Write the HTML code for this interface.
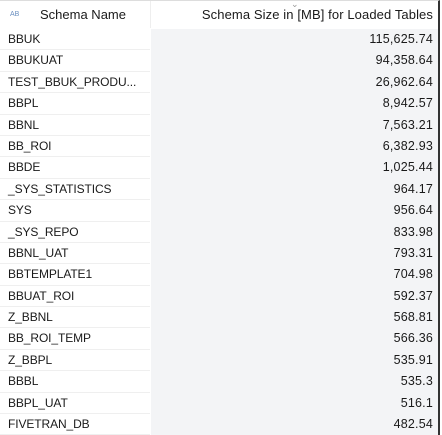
<!DOCTYPE html>
<html><head><meta charset="utf-8"><style>
html,body{margin:0;padding:0;width:442px;height:435px;overflow:hidden;background:#fff;font-family:"Liberation Sans",sans-serif;font-size:12px;color:#1a1a1a}
#wrap{position:absolute;left:0;top:0;width:440px;height:435px;border-top:1px solid #ddd;border-right:2px solid #333;box-sizing:border-box}
.hdr{position:absolute;top:0;height:27px;line-height:27px;font-size:13px}
#rows{position:absolute;left:0;top:28px;width:438px}
.row{position:relative;height:21.4px;line-height:21.4px}
.c1{position:absolute;left:0;width:150px;height:100%;padding-left:8px;box-sizing:border-box;border-bottom:1px solid #efefef;white-space:nowrap;overflow:hidden;letter-spacing:-0.1px}
.c2{position:absolute;left:151px;right:0;height:100%;background:#f3f4f6;text-align:right;padding-right:5px;box-sizing:border-box;font-size:12.5px;letter-spacing:0.2px}
</style></head><body>
<div id="wrap">
<div class="hdr" style="left:0;width:150px;border-right:1px solid #eee">
<span style="position:absolute;left:10px;font-size:7px;color:#6a8fc0">AB</span>
<span style="position:absolute;left:40px">Schema Name</span></div>
<div class="hdr" style="left:151px;right:0;text-align:right;padding-right:5px;letter-spacing:0.1px">
<span style="position:absolute;left:140px;top:-10px;font-size:9px;color:#999">&#8964;</span>Schema Size in [MB] for Loaded Tables</div>
<div id="rows"></div>
</div>
<script>
const names=["BBUK","BBUKUAT","TEST_BBUK_PRODU...","BBPL","BBNL","BB_ROI","BBDE","_SYS_STATISTICS","SYS","_SYS_REPO","BBNL_UAT","BBTEMPLATE1","BBUAT_ROI","Z_BBNL","BB_ROI_TEMP","Z_BBPL","BBBL","BBPL_UAT","FIVETRAN_DB"];
const sizes=["115,625.74","94,358.64","26,962.64","8,942.57","7,563.21","6,382.93","1,025.44","964.17","956.64","833.98","793.31","704.98","592.37","568.81","566.36","535.91","535.3","516.1","482.54"];
const body=document.getElementById('rows');
names.forEach((n,i)=>{
const r=document.createElement('div');r.className='row';


const a=document.createElement('div');a.className='c1';a.textContent=n;


const b=document.createElement('div');b.className='c2';b.textContent=sizes[i];


r.appendChild(a);r.appendChild(b);body.appendChild(r);
});
</script>
</body></html>
